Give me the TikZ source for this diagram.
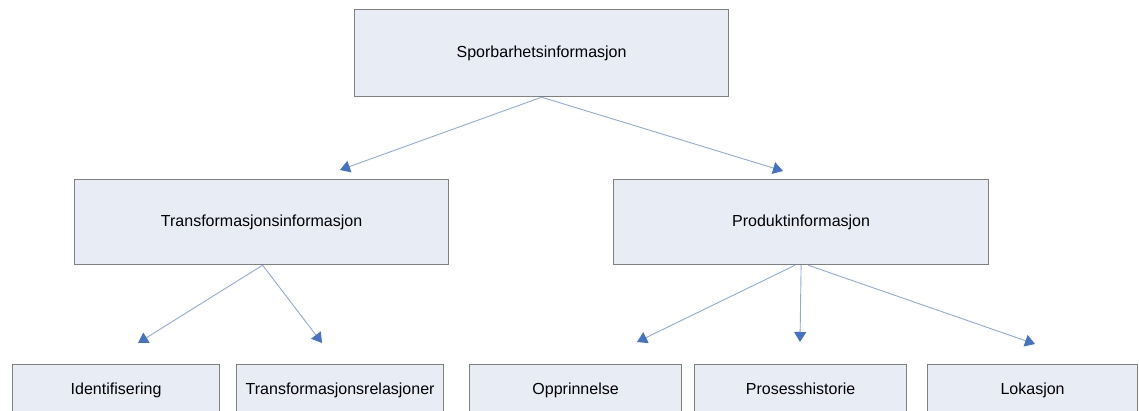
\documentclass[tikz,border=0pt]{standalone}
\usepackage{fontspec}
\setmainfont{Liberation Sans}
\usetikzlibrary{arrows.meta}
\definecolor{boxfill}{HTML}{E8ECF5}
\definecolor{boxline}{HTML}{808080}
\definecolor{linkline}{HTML}{8EAADB}
\definecolor{tipfill}{HTML}{4472C4}
\begin{document}
\begin{tikzpicture}[x=1pt,y=-1pt,
  labelfont/.style={font=\fontsize{16}{18}\selectfont},
  item/.style={draw=boxline,line width=1.2pt,fill=boxfill,labelfont,
    inner sep=0pt,anchor=north west},
  lowlabel/.style={labelfont,anchor=base,inner sep=0pt},
  link/.style={draw=linkline,line width=0.9pt,
    -{Triangle[length=10pt,width=12pt,color=tipfill]}}]
\useasboundingbox (0,0) rectangle (1139,411);
% top level
\node[item,minimum width=374pt,minimum height=87pt] (top) at (354,9) {Sporbarhetsinformasjon};
% second level
\node[item,minimum width=374pt,minimum height=85pt] (trans) at (74,179) {Transformasjonsinformasjon};
\node[item,minimum width=375pt,minimum height=85pt] (prod) at (613,179) {Produktinformasjon};
% third level (cut by the lower edge)
\node[item,minimum width=207pt,minimum height=70pt] (ident) at (12,364) {};
\node[item,minimum width=207pt,minimum height=70pt] (rel) at (236,364) {};
\node[item,minimum width=212pt,minimum height=70pt] (orig) at (469,364) {};
\node[item,minimum width=212pt,minimum height=70pt] (hist) at (694,364) {};
\node[item,minimum width=210pt,minimum height=70pt] (lok) at (927,364) {};
\node[lowlabel] (identT) at ([yshift=-30pt]ident.north) {Identifisering};
\node[lowlabel] (relT) at ([yshift=-30pt]rel.north) {Transformasjonsrelasjoner};
\node[lowlabel] (origT) at ([yshift=-30pt]orig.north) {Opprinnelse};
\node[lowlabel] (histT) at ([yshift=-30pt]hist.north) {Prosesshistorie};
\node[lowlabel] (lokT) at ([yshift=-30pt]lok.north) {Lokasjon};
% free arrow ends above the child boxes
\coordinate (tT) at (340,170);
\coordinate (tP) at (783,171);
\coordinate (tI) at (138,343);
\coordinate (tR) at (322,343);
\coordinate (tO) at (637,342);
\coordinate (tH) at (800,342);
\coordinate (tL) at (1035,344);
% connectors
\draw[link] (top.south) -- (tT);
\draw[link] (top.south) -- (tP);
\draw[link] ([xshift=1pt]trans.south) -- (tI);
\draw[link] ([xshift=1pt]trans.south) -- (tR);
\draw[link] ([xshift=-6pt]prod.south) -- (tO);
\draw[link] (prod.south) -- (tH);
\draw[link] ([xshift=7pt]prod.south) -- (tL);
\end{tikzpicture}
\end{document}
